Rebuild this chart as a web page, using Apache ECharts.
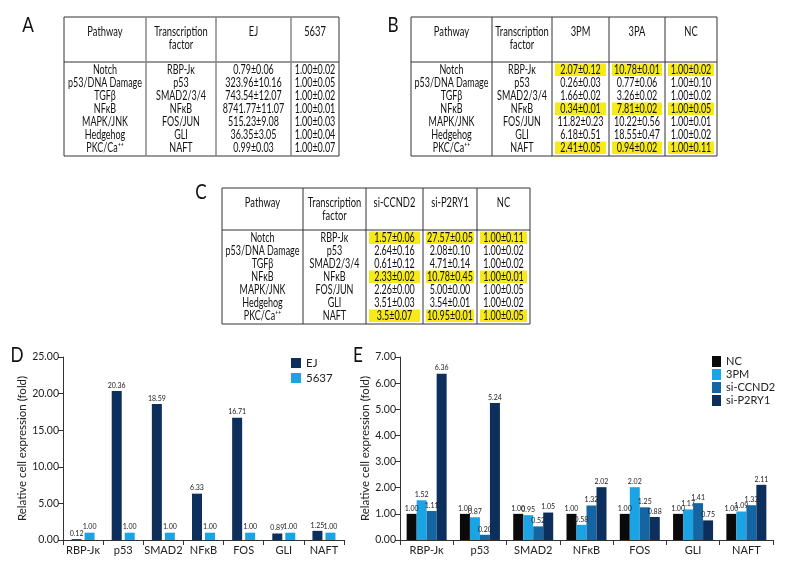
<!DOCTYPE html>
<html><head><meta charset="utf-8">
<script src="https://cdn.jsdelivr.net/npm/echarts@6/dist/echarts.min.js"></script>
<style>html,body{margin:0;padding:0;background:#fff}#c{width:792px;height:576px}</style>
</head><body><div id="c"></div>
<script>
// ---------- DATA ----------
const pathways = ['Notch','p53/DNA Damage','TGFβ','NFκB','MAPK/JNK','Hedgehog','PKC/Ca⁺⁺'];
const factors = ['RBP-Jκ','p53','SMAD2/3/4','NFκB','FOS/JUN','GLI','NAFT'];

const tableAHeaders = ['EJ','5637'];
const tableA_EJ = ['0.79±0.06','323.96±10.16','743.54±12.07','8741.77±11.07','515.23±9.08','36.35±3.05','0.99±0.03'];
const tableA_5637 = ['1.00±0.02','1.00±0.05','1.00±0.02','1.00±0.01','1.00±0.03','1.00±0.04','1.00±0.07'];

const tableBHeaders = ['3PM','3PA','NC'];
const tableB_3PM = ['2.07±0.12','0.26±0.03','1.66±0.02','0.34±0.01','11.82±0.23','6.18±0.51','2.41±0.05'];
const tableB_3PA = ['10.78±0.01','0.77±0.06','3.26±0.02','7.81±0.02','10.22±0.56','18.55±0.47','0.94±0.02'];
const tableB_NC = ['1.00±0.02','1.00±0.10','1.00±0.02','1.00±0.05','1.00±0.01','1.00±0.02','1.00±0.11'];

const tableCHeaders = ['si-CCND2','si-P2RY1','NC'];
const tableC_CCND2 = ['1.57±0.06','2.64±0.16','0.61±0.12','2.33±0.02','2.26±0.00','3.51±0.03','3.5±0.07'];
const tableC_P2RY1 = ['27.57±0.05','2.08±0.10','4.71±0.14','10.78±0.45','5.00±0.00','3.54±0.01','10.95±0.01'];
const tableC_NC = ['1.00±0.11','1.00±0.02','1.00±0.02','1.00±0.01','1.00±0.05','1.00±0.02','1.00±0.05'];

const highlightRows = [0, 3, 6];

const categories = ['RBP-Jκ','p53','SMAD2','NFκB','FOS','GLI','NAFT'];
const dEJ = [0.12, 20.36, 18.59, 6.33, 16.71, 0.89, 1.25];
const d5637 = [1.00, 1.00, 1.00, 1.00, 1.00, 1.00, 1.00];
const eNC = [1.00, 1.00, 1.00, 1.00, 1.00, 1.00, 1.00];
const e3PM = [1.52, 0.87, 0.95, 0.58, 2.02, 1.17, 1.09];
const eCCND2 = [1.11, 0.20, 0.52, 1.32, 1.25, 1.41, 1.33];
const eP2RY1 = [6.36, 5.24, 1.05, 2.02, 0.88, 0.75, 2.11];

// ---------- STYLE ----------
const FF = 'Lato,"Liberation Sans",sans-serif';
const cNavy = '#0c2f5c', cLight = '#1ba3e3', cMid = '#1565a2', cBlack = '#0a0a0a';

function txt(x, y, s, size, sx) {
  return { type: 'text', x: x, y: y, scaleX: sx || 0.72, originX: 0, originY: 0, silent: true,
    style: { text: s, font: size + 'px ' + FF, fill: '#111',
      align: 'center', verticalAlign: 'middle', textAlign: 'center', textVerticalAlign: 'middle' } };
}
function line(x1, y1, x2, y2, color, w) {
  return { type: 'line', silent: true, shape: { x1: x1, y1: y1, x2: x2, y2: y2 },
    style: { stroke: color, lineWidth: w } };
}
function buildTable(xs, top, hdr, bottom, valueHeaders, valueCols, hl, innerColor, innerW) {
  const els = [];
  const n = xs.length - 1;
  if (hl) {
    hl.forEach(r => {
      const cy = hdr + 7.5 + 13 * r;
      for (let c = 2; c < n; c++) {
        els.push({ type: 'rect', silent: true,
          shape: { x: xs[c] + 3, y: cy - 6, width: xs[c + 1] - xs[c] - 6, height: 12.5 },
          style: { fill: '#f7ea1a' } });
      }
    });
  }
  els.push({ type: 'rect', silent: true,
    shape: { x: xs[0], y: top, width: xs[n] - xs[0], height: bottom - top },
    style: { fill: 'none', stroke: '#333', lineWidth: 1 } });
  els.push(line(xs[0], hdr, xs[n], hdr, '#333', 1));
  for (let c = 1; c < n; c++) els.push(line(xs[c], top, xs[c], bottom, innerColor, innerW));
  const cx = c => (xs[c] + xs[c + 1]) / 2;
  els.push(txt(cx(0), top + 15, 'Pathway', 13));
  els.push(txt(cx(1), top + 15, 'Transcription', 13));
  els.push(txt(cx(1), top + 28, 'factor', 13));
  valueHeaders.forEach((h, i) => els.push(txt(cx(i + 2), top + 15, h, 13)));
  for (let r = 0; r < pathways.length; r++) {
    const cy = hdr + 7.5 + 13 * r;
    els.push(txt(cx(0), cy, pathways[r], 13, 0.69));
    els.push(txt(cx(1), cy, factors[r], 13, 0.69));
    valueCols.forEach((col, i) => els.push(txt(cx(i + 2), cy, col[r], 13, 0.69)));
  }
  return els;
}

const graphics = [].concat(
  buildTable([64, 146, 216, 291, 339], 17, 62, 156, tableAHeaders, [tableA_EJ, tableA_5637], null, '#888', 1.5),
  buildTable([411, 492, 552, 609, 665, 717], 17, 62, 156, tableBHeaders, [tableB_3PM, tableB_3PA, tableB_NC], highlightRows, '#333', 1),
  buildTable([222, 303, 366, 423, 477, 530], 188, 230, 324, tableCHeaders, [tableC_CCND2, tableC_P2RY1, tableC_NC], highlightRows, '#333', 1),
  [txt(28, 25, 'A', 22, 0.78), txt(393, 25, 'B', 22, 0.78), txt(201, 192, 'C', 22, 0.78),
   txt(17, 355, 'D', 22, 0.78), txt(358, 355, 'E', 22, 0.78)]
);

const fmt2 = v => Number(v).toFixed(2);
const barLabel = { show: true, position: 'top', distance: 2, fontSize: 7, fontFamily: FF, color: '#222',
  formatter: p => fmt2(p.value) };

function yAx(gi, max) {
  return { type: 'value', gridIndex: gi, min: 0, max: max, interval: max === 25 ? 5 : 1,
    name: 'Relative cell expression (fold)', nameLocation: 'middle', nameGap: 22, nameRotate: 90,
    nameTextStyle: { fontFamily: FF, fontSize: 11.5, color: '#222' },
    axisLine: { show: true, lineStyle: { color: '#333', width: 1 } },
    axisTick: { show: true, length: 5, lineStyle: { color: '#333' } },
    axisLabel: { fontFamily: FF, fontSize: 10.5, color: '#222', margin: 4, formatter: fmt2 },
    splitLine: { show: false } };
}
function xAx(gi) {
  return { type: 'category', gridIndex: gi, data: categories,
    axisLine: { lineStyle: { color: '#333', width: 1 } },
    axisTick: { show: true, length: 5, alignWithLabel: false, lineStyle: { color: '#333' } },
    axisLabel: { fontFamily: FF, fontSize: 11, color: '#222', margin: 5, interval: 0 } };
}

const option = {
  animation: false,
  backgroundColor: '#fff',
  graphic: { elements: graphics },
  grid: [
    { left: 63, top: 357, width: 281, height: 183 },
    { left: 400, top: 357, width: 373, height: 183 }
  ],
  xAxis: [xAx(0), xAx(1)],
  yAxis: [yAx(0, 25), yAx(1, 7)],
  legend: [
    { data: ['EJ', '5637'], orient: 'vertical', left: 286, top: 352, itemWidth: 10, itemHeight: 10,
      itemGap: 3, icon: 'rect', textStyle: { fontFamily: FF, fontSize: 11.5, color: '#222' } },
    { data: ['NC', '3PM', 'si-CCND2', 'si-P2RY1'], orient: 'vertical', left: 707, top: 351,
      itemWidth: 9, itemHeight: 11, itemGap: 2, itemStyle: { borderWidth: 0 }, icon: 'rect',
      textStyle: { fontFamily: FF, fontSize: 11, color: '#222' } }
  ],
  series: [
    { name: 'EJ', type: 'bar', xAxisIndex: 0, yAxisIndex: 0, data: dEJ, barWidth: 10, barGap: '30%',
      itemStyle: { color: cNavy }, label: barLabel },
    { name: '5637', type: 'bar', xAxisIndex: 0, yAxisIndex: 0, data: d5637, barWidth: 10, barGap: '30%',
      itemStyle: { color: cLight }, label: barLabel },
    { name: 'NC', type: 'bar', xAxisIndex: 1, yAxisIndex: 1, data: eNC, barWidth: 10, barGap: '0%',
      itemStyle: { color: cBlack }, label: barLabel },
    { name: '3PM', type: 'bar', xAxisIndex: 1, yAxisIndex: 1, data: e3PM, barWidth: 10, barGap: '0%',
      itemStyle: { color: cLight }, label: barLabel },
    { name: 'si-CCND2', type: 'bar', xAxisIndex: 1, yAxisIndex: 1, data: eCCND2, barWidth: 10, barGap: '0%',
      itemStyle: { color: cMid }, label: barLabel },
    { name: 'si-P2RY1', type: 'bar', xAxisIndex: 1, yAxisIndex: 1, data: eP2RY1, barWidth: 10, barGap: '0%',
      itemStyle: { color: cNavy }, label: barLabel }
  ]
};
const chart = echarts.init(document.getElementById('c'), null, { renderer: 'canvas' });
chart.setOption(option);
</script></body></html>
